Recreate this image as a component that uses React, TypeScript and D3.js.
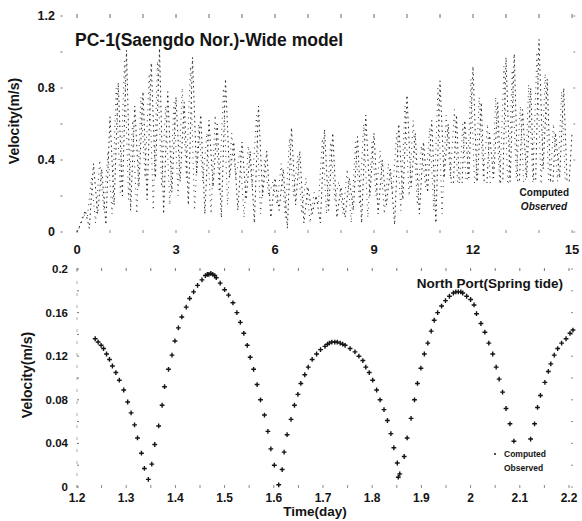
import { useEffect, useRef } from 'react';
import * as d3 from 'd3';

// ---- top panel: PC-1 velocity, 15 days, 3-hourly samples ----
const topStep = 0.125;
const computedVel = [
  0.0, 0.05, 0.12, 0.02, 0.38, 0.10, 0.35, 0.04,
  0.64, 0.15, 0.83, 0.20, 1.01, 0.12, 0.70, 0.25,
  0.78, 0.18, 0.94, 0.30, 1.02, 0.10, 0.78, 0.22,
  0.75, 0.28, 0.72, 0.15, 0.97, 0.32, 0.65, 0.10,
  0.62, 0.25, 0.60, 0.08, 0.85, 0.30, 0.50, 0.12,
  0.50, 0.18, 0.45, 0.05, 0.70, 0.20, 0.45, 0.08,
  0.30, 0.12, 0.35, 0.02, 0.58, 0.15, 0.45, 0.05,
  0.25, 0.10, 0.20, 0.05, 0.57, 0.12, 0.55, 0.08,
  0.25, 0.08, 0.30, 0.12, 0.53, 0.05, 0.65, 0.20,
  0.55, 0.10, 0.40, 0.15, 0.35, 0.04, 0.60, 0.18,
  0.76, 0.25, 0.55, 0.10, 0.50, 0.22, 0.62, 0.05,
  0.84, 0.30, 0.60, 0.15, 0.65, 0.08, 0.62, 0.30,
  0.92, 0.25, 0.72, 0.10, 0.55, 0.30, 0.72, 0.08,
  0.97, 0.28, 0.99, 0.15, 0.68, 0.30, 0.80, 0.10,
  1.07, 0.35, 0.85, 0.12, 0.55, 0.30, 0.80, 0.15,
  0.55,
];
const observedVel = [
  0.02, 0.10, 0.08, 0.30, 0.05, 0.40, 0.12, 0.45,
  0.10, 0.80, 0.22, 0.95, 0.18, 0.62, 0.10, 0.75,
  0.30, 0.88, 0.12, 0.95, 0.25, 0.70, 0.15, 0.72,
  0.20, 0.80, 0.30, 0.92, 0.12, 0.60, 0.28, 0.55,
  0.10, 0.65, 0.22, 0.80, 0.15, 0.55, 0.30, 0.45,
  0.08, 0.48, 0.25, 0.65, 0.10, 0.40, 0.20, 0.28,
  0.15, 0.38, 0.08, 0.52, 0.20, 0.42, 0.10, 0.30,
  0.05, 0.22, 0.15, 0.52, 0.10, 0.50, 0.18, 0.28,
  0.10, 0.35, 0.05, 0.50, 0.15, 0.60, 0.08, 0.50,
  0.20, 0.45, 0.10, 0.38, 0.22, 0.55, 0.12, 0.70,
  0.20, 0.62, 0.15, 0.48, 0.25, 0.58, 0.12, 0.80,
  0.10, 0.65, 0.30, 0.68, 0.15, 0.60, 0.22, 0.85,
  0.18, 0.75, 0.30, 0.60, 0.12, 0.75, 0.25, 0.92,
  0.20, 0.90, 0.30, 0.70, 0.15, 0.82, 0.28, 1.00,
  0.25, 0.88, 0.15, 0.60, 0.28, 0.78, 0.20,
];
const topXTicks = [0, 3, 6, 9, 12, 15];
const topYTicks = [0, 0.4, 0.8, 1.2];

// ---- bottom panel: North Port, spring tide ----
const portTime = [
  1.237, 1.243, 1.249, 1.254, 1.260, 1.266, 1.272, 1.279, 1.286, 1.295, 1.303, 1.310, 1.317, 1.323, 1.331, 1.337, 1.345,
  1.352, 1.358, 1.366, 1.373, 1.378, 1.386, 1.393, 1.399, 1.406, 1.413, 1.422, 1.429, 1.437, 1.445, 1.454, 1.461, 1.465, 1.468, 1.472, 1.476, 1.480,
  1.483, 1.491, 1.500, 1.508, 1.517, 1.525, 1.532, 1.539, 1.546, 1.552, 1.559, 1.566, 1.573, 1.581, 1.588, 1.594, 1.601, 1.610,
  1.617, 1.621, 1.627, 1.635, 1.642, 1.649, 1.655, 1.663, 1.670, 1.678, 1.687, 1.695, 1.704, 1.709, 1.713, 1.718, 1.724, 1.729, 1.735, 1.740,
  1.745, 1.755, 1.765, 1.773, 1.781, 1.787, 1.794, 1.801, 1.809, 1.816, 1.824, 1.831, 1.838, 1.844, 1.851, 1.853, 1.856,
  1.865, 1.871, 1.879, 1.886, 1.892, 1.899, 1.906, 1.913, 1.920, 1.926, 1.933, 1.941, 1.949, 1.957, 1.965, 1.970, 1.975, 1.980,
  1.984, 1.992, 2.000, 2.007, 2.012, 2.021, 2.029, 2.037, 2.045, 2.052, 2.058, 2.065, 2.072, 2.080, 2.088,
  2.122, 2.130, 2.136, 2.142, 2.151, 2.158, 2.163, 2.170, 2.177, 2.185, 2.194, 2.202, 2.208,
];
const portVel = [
  0.136, 0.133, 0.130, 0.127, 0.122, 0.117, 0.111, 0.105, 0.098, 0.089, 0.078, 0.068, 0.057, 0.045, 0.031, 0.017, 0.007,
  0.021, 0.039, 0.056, 0.075, 0.092, 0.108, 0.121, 0.134, 0.146, 0.156, 0.165, 0.173, 0.179, 0.185, 0.190, 0.194, 0.195, 0.195, 0.196, 0.195, 0.194,
  0.192, 0.187, 0.181, 0.176, 0.169, 0.160, 0.151, 0.141, 0.130, 0.119, 0.108, 0.094, 0.080, 0.066, 0.051, 0.035, 0.020, 0.002,
  0.016, 0.032, 0.048, 0.062, 0.075, 0.085, 0.095, 0.103, 0.110, 0.117, 0.122, 0.126, 0.129, 0.131, 0.132, 0.133, 0.133, 0.133, 0.132, 0.131,
  0.130, 0.127, 0.124, 0.120, 0.116, 0.110, 0.105, 0.098, 0.089, 0.080, 0.071, 0.061, 0.049, 0.036, 0.022, 0.009, 0.012,
  0.028, 0.045, 0.063, 0.080, 0.095, 0.109, 0.122, 0.132, 0.143, 0.153, 0.160, 0.166, 0.171, 0.175, 0.178, 0.179, 0.179, 0.179,
  0.178, 0.175, 0.172, 0.167, 0.159, 0.150, 0.142, 0.132, 0.122, 0.110, 0.099, 0.087, 0.072, 0.058, 0.042,
  0.044, 0.058, 0.073, 0.084, 0.096, 0.106, 0.113, 0.121, 0.127, 0.132, 0.136, 0.141, 0.144,
];
const botXTicks = [1.2, 1.3, 1.4, 1.5, 1.6, 1.7, 1.8, 1.9, 2, 2.1, 2.2];
const botYTicks = [0, 0.04, 0.08, 0.12, 0.16, 0.2];

const FONT = '"Liberation Sans", Arial, sans-serif';
const INK = '#141414';

const App = () => {
  const svgRef = useRef(null);

  useEffect(() => {
    document.body.style.margin = '0';
    const svg = d3.select(svgRef.current);
    svg.selectAll('*').remove();

    svg.append('rect').attr('width', 582).attr('height', 521).attr('fill', '#fff');

    /* ---------- TOP PANEL ---------- */
    const xT = d3.scaleLinear().domain([0, 15]).range([77, 572]);
    const yT = d3.scaleLinear().domain([0, 1.2]).range([232, 16]);
    const gT = svg.append('g');

    // dotted frame ticks
    const tL = xT(-0.5), tR = xT(15.1);
    d3.range(0, 16, 1).forEach(d => {
      gT.append('line').attr('x1', xT(d)).attr('x2', xT(d)).attr('y1', 14).attr('y2', 18)
        .attr('stroke', '#666').attr('stroke-width', 1);
      gT.append('line').attr('x1', xT(d)).attr('x2', xT(d)).attr('y1', 230).attr('y2', 233)
        .attr('stroke', '#888').attr('stroke-width', 1);
    });
    d3.range(0, 1.21, 0.2).forEach(v => {
      gT.append('line').attr('x1', tL).attr('x2', tL + 2).attr('y1', yT(v)).attr('y2', yT(v))
        .attr('stroke', '#666');
      gT.append('line').attr('x1', tR - 2).attr('x2', tR).attr('y1', yT(v)).attr('y2', yT(v))
        .attr('stroke', '#888');
    });

    const lineT = d3.line<number>().x((_, i) => xT(i * topStep)).y(d => yT(d));
    const lineO = d3.line<number>().x((_, i) => xT(i * topStep + topStep / 2)).y(d => yT(d));

    gT.append('path').datum(computedVel).attr('d', lineT).attr('fill', 'none')
      .attr('stroke', INK).attr('stroke-width', 0.9).attr('stroke-dasharray', '1.6 3.4');
    gT.append('path').datum(observedVel).attr('d', lineO).attr('fill', 'none')
      .attr('stroke', '#2a2a2a').attr('stroke-width', 1).attr('stroke-dasharray', '0.9 4.6');

    // legend box
    gT.append('rect').attr('x', 447).attr('y', 183).attr('width', 130).attr('height', 35).attr('fill', '#fff');
    gT.append('text').attr('x', 569).attr('y', 196).attr('text-anchor', 'end')
      .style('font-family', FONT).style('font-weight', 'bold').style('font-size', '10px').attr('fill', INK)
      .text('Computed');
    gT.append('text').attr('x', 567).attr('y', 210).attr('text-anchor', 'end')
      .style('font-family', FONT).style('font-weight', 'bold').style('font-style', 'italic')
      .style('font-size', '10px').attr('fill', INK).text('Observed');

    // title
    gT.append('text').attr('x', 75).attr('y', 46)
      .style('font-family', FONT).style('font-weight', 'bold').style('font-size', '17.5px').attr('fill', INK)
      .text('PC-1(Saengdo Nor.)-Wide model');

    // axes labels
    topYTicks.forEach(v => {
      gT.append('text').attr('x', 55).attr('y', yT(v)).attr('dy', '0.35em').attr('text-anchor', 'end')
        .style('font-family', FONT).style('font-weight', 'bold').style('font-size', '12.5px').attr('fill', INK)
        .text(v === 0 ? '0' : d3.format('.1f')(v));
    });
    topXTicks.forEach(d => {
      gT.append('text').attr('x', xT(d)).attr('y', 254).attr('text-anchor', 'middle')
        .style('font-family', FONT).style('font-weight', 'bold').style('font-size', '13px').attr('fill', INK)
        .text(d);
    });
    gT.append('text').attr('transform', 'translate(19,121) rotate(-90)').attr('text-anchor', 'middle')
      .style('font-family', FONT).style('font-weight', 'bold').style('font-size', '14px').attr('fill', INK)
      .text('Velocity(m/s)');

    /* ---------- BOTTOM PANEL ---------- */
    const xB = d3.scaleLinear().domain([1.2, 2.2]).range([77, 569]);
    const yB = d3.scaleLinear().domain([0, 0.2]).range([487, 269]);
    const gB = svg.append('g');
    const bR = xB(2.208);

    d3.range(1.2, 2.21, 0.05).forEach(d => {
      gB.append('line').attr('x1', xB(d)).attr('x2', xB(d)).attr('y1', 268).attr('y2', 271)
        .attr('stroke', '#777');
      gB.append('line').attr('x1', xB(d)).attr('x2', xB(d)).attr('y1', 485).attr('y2', 488)
        .attr('stroke', '#888');
    });
    d3.range(0, 0.201, 0.02).forEach(v => {
      gB.append('line').attr('x1', 77).attr('x2', 79).attr('y1', yB(v)).attr('y2', yB(v)).attr('stroke', '#777');
      gB.append('line').attr('x1', bR - 2).attr('x2', bR).attr('y1', yB(v)).attr('y2', yB(v)).attr('stroke', '#888');
    });
    gB.append('line').attr('x1', 77).attr('x2', 77).attr('y1', 269).attr('y2', 487)
      .attr('stroke', '#999').attr('stroke-width', 0.8).attr('stroke-dasharray', '3 9');

    const plus = 'M-2.4,0H2.4M0,-2.4V2.4';
    gB.selectAll('.pt')
      .data(portTime.map((t, i) => [t, portVel[i]]))
      .enter()
      .append('path')
      .attr('class', 'pt')
      .attr('transform', d => `translate(${xB(d[0])},${yB(d[1])})`)
      .attr('d', plus)
      .attr('stroke', INK)
      .attr('stroke-width', 1.4)
      .attr('fill', 'none');

    // legend
    gB.append('circle').attr('cx', 495).attr('cy', 454).attr('r', 1).attr('fill', INK);
    gB.append('text').attr('x', 504).attr('y', 457)
      .style('font-family', FONT).style('font-weight', 'bold').style('font-size', '8.5px').attr('fill', INK)
      .text('Computed');
    gB.append('text').attr('x', 504).attr('y', 471)
      .style('font-family', FONT).style('font-weight', 'bold').style('font-size', '8.5px').attr('fill', INK)
      .text('Observed');

    gB.append('text').attr('x', 563).attr('y', 288).attr('text-anchor', 'end')
      .style('font-family', FONT).style('font-weight', 'bold').style('font-size', '13.5px').attr('fill', INK)
      .text('North Port(Spring tide)');

    botYTicks.forEach(v => {
      gB.append('text').attr('x', 68).attr('y', yB(v)).attr('dy', '0.35em').attr('text-anchor', 'end')
        .style('font-family', FONT).style('font-weight', 'bold').style('font-size', '11.5px').attr('fill', INK)
        .text(v === 0 ? '0' : String(+v.toFixed(2)));
    });
    botXTicks.forEach(d => {
      gB.append('text').attr('x', xB(d)).attr('y', 502).attr('text-anchor', 'middle')
        .style('font-family', FONT).style('font-weight', 'bold').style('font-size', '12px').attr('fill', INK)
        .text(String(d));
    });
    gB.append('text').attr('transform', 'translate(32,375) rotate(-90)').attr('text-anchor', 'middle')
      .style('font-family', FONT).style('font-weight', 'bold').style('font-size', '14px').attr('fill', INK)
      .text('Velocity(m/s)');
    gB.append('text').attr('x', 315).attr('y', 516).attr('text-anchor', 'middle')
      .style('font-family', FONT).style('font-weight', 'bold').style('font-size', '13.5px').attr('fill', INK)
      .text('Time(day)');
  }, []);

  return <svg ref={svgRef} width={582} height={521} style={{ display: 'block' }} />;
};

export default App;
